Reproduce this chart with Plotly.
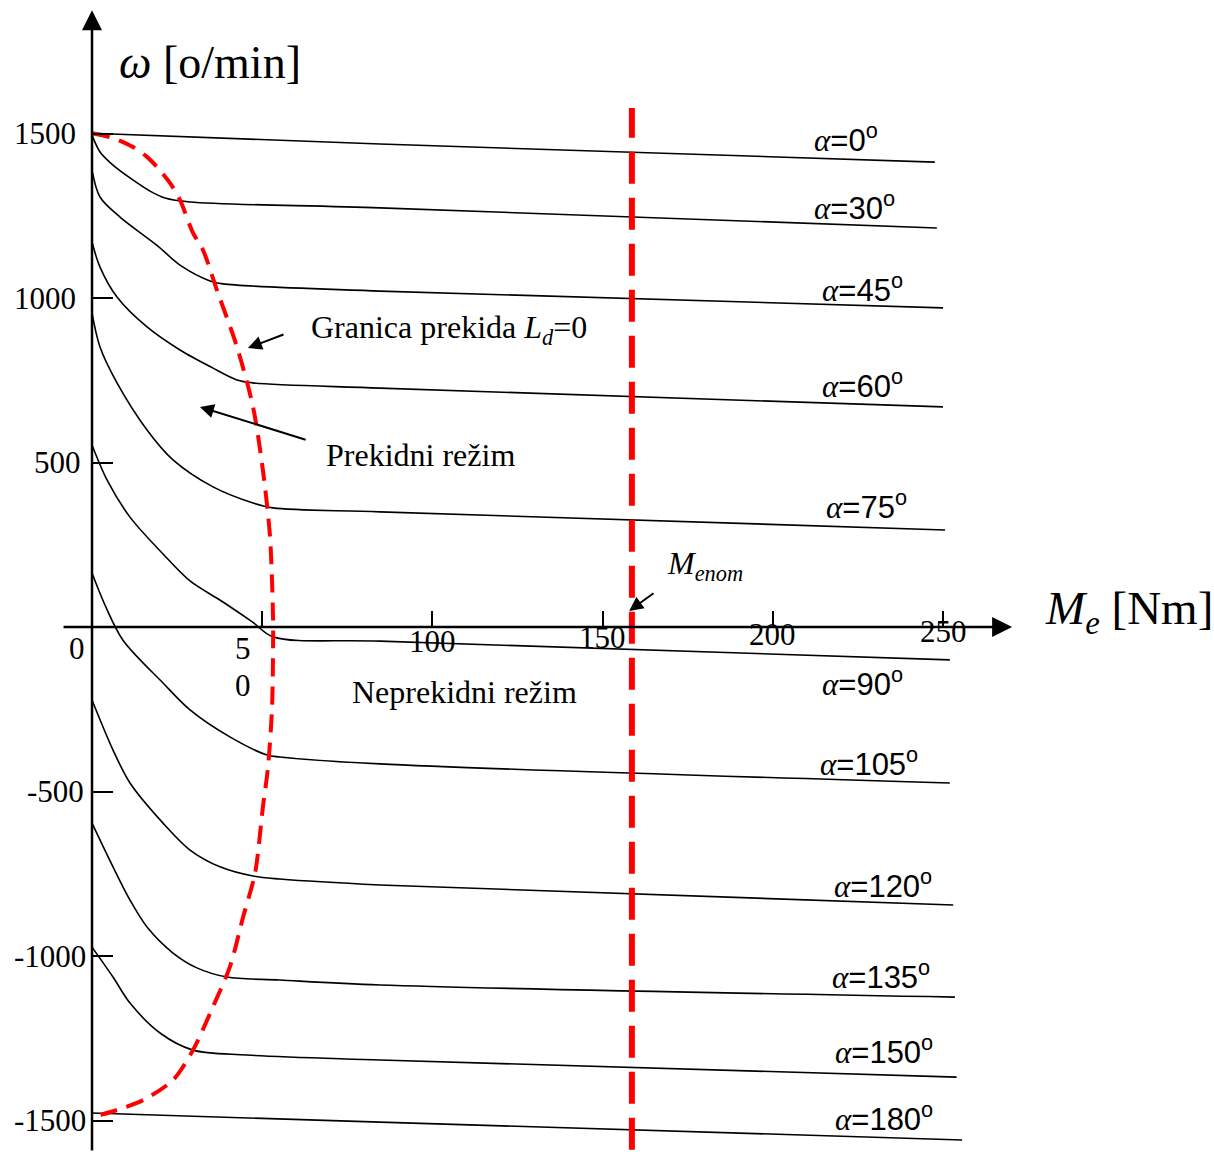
import plotly.graph_objects as go

# ---------------- data: M_e [Nm] and omega [o/min] ----------------
m_a0 = [0, 84.6, 247.6]
w_a0 = [1501, 1468, 1413]
m_a30 = [0, 2.35, 6.17, 11.16, 17.04, 21.45, 28.79, 84.6, 248.2]
w_a30 = [1495, 1444, 1404, 1365, 1325, 1304, 1292, 1274, 1213]
m_a45 = [0, 2.35, 8.23, 19.1, 25.85, 34.67, 38.48, 84.6, 250]
w_a45 = [1389, 1307, 1246, 1160, 1100, 1052, 1043, 1021, 970]
m_a60 = [0, 2.35, 7.34, 16.16, 25.85, 35.55, 42.6, 47.3, 84.6, 250]
w_a60 = [1170, 1094, 1003, 912, 842, 787, 751, 742, 726, 669]
m_a75 = [0, 2.35, 7.34, 16.16, 23.8, 35.55, 47.3, 53.2, 84.6, 250.6]
w_a75 = [954, 851, 742, 599, 508, 426, 377, 362, 350, 295]
m_a90 = [0, 4.4, 11.16, 20.86, 28.79, 38.48, 47.3, 53.2, 84.6, 252]
w_a90 = [553, 447, 334, 222, 140, 76, 14, -30, -43, -100]
m_a105 = [0, 3.8, 9.1, 20.86, 28.79, 40.5, 51.4, 55.2, 84.6, 252]
w_a105 = [164, 67, -40, -170, -252, -334, -389, -395, -416, -474]
m_a120 = [0, 6.17, 11.16, 20.86, 28.79, 37.6, 47.3, 55.2, 84.6, 253]
w_a120 = [-222, -374, -474, -596, -678, -729, -757, -766, -784, -845]
m_a135 = [0, 6.17, 11.16, 16.16, 23.8, 30.8, 39.7, 55.2, 84.6, 253.5]
w_a135 = [-596, -729, -830, -912, -991, -1036, -1064, -1073, -1088, -1125]
m_a150 = [0, 6.17, 11.16, 19.98, 29.67, 45.5, 84.6, 254]
w_a150 = [-973, -1064, -1143, -1234, -1286, -1301, -1316, -1368]
m_a180 = [0, 84.6, 255.6]
w_a180 = [-1477, -1505, -1559]

# boundary of discontinuous conduction (L_d = 0)
m_lim = [0, 6.17, 12.04, 16.16, 19.1, 22.9, 25.85, 29.67, 32.6, 36.7, 42.6, 47.3, 50.2,
         52.3, 53.2, 53.2, 52.9, 51.7, 50.2, 47.9, 44.4, 40.5, 35.5, 29.67, 23.8, 15.0, 7.34, 2.5]
w_lim = [1501, 1486, 1459, 1429, 1398, 1350, 1298, 1198, 1146, 1024, 851, 669, 477,
         274, 21, -40, -243, -426, -547, -748, -881, -1033, -1155, -1286, -1377, -1438, -1468, -1483]

# nominal torque
M_NOM = 158.6

alpha_labels = ["0", "30", "45", "60", "75", "90", "105", "120", "135", "150", "180"]
curves_m = [m_a0, m_a30, m_a45, m_a60, m_a75, m_a90, m_a105, m_a120, m_a135, m_a150, m_a180]
curves_w = [w_a0, w_a30, w_a45, w_a60, w_a75, w_a90, w_a105, w_a120, w_a135, w_a150, w_a180]

x_ticks = [50, 100, 150, 200, 250]
y_ticks = [-1500, -1000, -500, 500, 1000, 1500]
y_tick_text = ["-1500", "-1000", "-500", "500", "1000", "1500"]

# ---------------- figure ----------------
SERIF = "Liberation Serif"
SANS = "Liberation Sans"
W, H = 1214, 1152
X_RANGE = [-27.03, 329.61]
Y_RANGE = [-1595.7, 1905.8]

fig = go.Figure()

for m, w in zip(curves_m, curves_w):
    fig.add_trace(go.Scatter(x=m, y=w, mode="lines",
                             line=dict(color="black", width=1.6, shape="spline", smoothing=0.9),
                             hoverinfo="skip", showlegend=False))

fig.add_trace(go.Scatter(x=m_lim, y=w_lim, mode="lines",
                         line=dict(color="#ff0000", width=4, dash="18px,10px",
                                   shape="spline", smoothing=0.8),
                         hoverinfo="skip", showlegend=False))

fig.add_shape(type="line", xref="x", yref="paper", x0=M_NOM, x1=M_NOM,
              y0=0.002, y1=(H - 108) / H,
              line=dict(color="#ff0000", width=6, dash="32px,14px"))

ann = []
# axis arrows
ann.append(dict(x=270.3, y=0, ax=-8.8, ay=0, xref="x", yref="y", axref="x", ayref="y",
                text="", showarrow=True, arrowhead=2, arrowsize=1.6, arrowwidth=2.5,
                arrowcolor="black", standoff=0, startstandoff=0))
ann.append(dict(x=0, y=1875, ax=0, ay=-1596, xref="x", yref="y", axref="x", ayref="y",
                text="", showarrow=True, arrowhead=2, arrowsize=1.6, arrowwidth=2.5,
                arrowcolor="black", standoff=0, startstandoff=0))

# alpha labels
alpha_pos = [(211.5, 1486), (211.5, 1280), (213.9, 1030), (213.9, 739), (215.0, 371),
             (213.9, -167), (213.3, -410), (217.4, -781), (216.8, -1058), (217.7, -1286),
             (217.7, -1489)]
for lab, (px, py) in zip(alpha_labels, alpha_pos):
    ann.append(dict(x=px, y=py, xref="x", yref="y", xanchor="left", yanchor="middle",
                    showarrow=False,
                    text=f"<span style='font-family:{SERIF}'><i>α</i></span>={lab}<sup>o</sup>",
                    font=dict(family=SANS, size=31, color="black")))

# axis titles
ann.append(dict(x=7.34, y=1717, xref="x", yref="y", xanchor="left", yanchor="middle",
                showarrow=False, text="<i>ω</i> [o/min]",
                font=dict(family=SERIF, size=46, color="black")))
ann.append(dict(x=279.4, y=46, xref="x", yref="y", xanchor="left", yanchor="middle",
                showarrow=False, text="<i>M<sub>e</sub></i> [Nm]",
                font=dict(family=SERIF, size=47, color="black")))

TICKFONT = dict(family=SERIF, size=31, color="black")
# y tick labels (right edges follow the slightly slanted axis of the original)
y_label_right = [-1.2, -1.2, -1.8, -2.6, -4.1, -4.1]
for v, t, xr in zip(y_ticks, y_tick_text, y_label_right):
    ann.append(dict(x=xr, y=v, xref="x", yref="y", xanchor="right", yanchor="middle",
                    showarrow=False, text=t, font=TICKFONT))

# x tick labels
ann.append(dict(x=-4.4, y=-64, xref="x", yref="y", showarrow=False, text="0", font=TICKFONT))
ann.append(dict(x=44.4, y=-64, xref="x", yref="y", showarrow=False, text="5", font=TICKFONT))
ann.append(dict(x=44.4, y=-179, xref="x", yref="y", showarrow=False, text="0", font=TICKFONT))
for t, ty in zip(x_ticks[1:], [-43, -33, -24, -15]):
    ann.append(dict(x=t, y=ty, xref="x", yref="y", showarrow=False, text=str(t), font=TICKFONT))

TXT = dict(family=SERIF, size=32, color="black")
# region texts
ann.append(dict(x=63.7, y=903, xref="x", yref="y", xanchor="left", yanchor="middle",
                showarrow=False, text="Granica prekida <i>L<sub>d</sub></i>=0", font=TXT))
ann.append(dict(x=68.2, y=523, xref="x", yref="y", xanchor="left", yanchor="middle",
                showarrow=False, text="Prekidni režim", font=TXT))
ann.append(dict(x=75.8, y=-198, xref="x", yref="y", xanchor="left", yanchor="middle",
                showarrow=False, text="Neprekidni režim", font=TXT))
ann.append(dict(x=168.3, y=188, xref="x", yref="y", xanchor="left", yanchor="middle",
                showarrow=False, text="<i>M<sub>enom</sub></i>", font=TXT))

# pointer arrows
for (tx, ty, sx, sy) in [(45.8, 848, 56.7, 891), (31.7, 669, 63.2, 568), (157.8, 49, 165.4, 106)]:
    ann.append(dict(x=tx, y=ty, ax=sx, ay=sy, xref="x", yref="y", axref="x", ayref="y",
                    text="", showarrow=True, arrowhead=2, arrowsize=1.4, arrowwidth=2,
                    arrowcolor="black", standoff=0, startstandoff=0))

fig.update_layout(
    width=W, height=H, margin=dict(l=0, r=0, t=0, b=0),
    paper_bgcolor="white", plot_bgcolor="white",
    annotations=ann,
    xaxis=dict(range=X_RANGE, anchor="free", position=1595.7 / 3501.5,
               showgrid=False, zeroline=False, showline=False,
               tickvals=x_ticks, ticks="inside", ticklen=16, tickwidth=1.5,
               tickcolor="black", showticklabels=False, fixedrange=True),
    yaxis=dict(range=Y_RANGE, anchor="free", position=92 / W,
               showgrid=False, zeroline=False, showline=False,
               tickvals=y_ticks, ticks="inside", ticklen=20,
               tickwidth=1.5, tickcolor="black", showticklabels=False, fixedrange=True),
    showlegend=False,
)

fig.write_html("out.html", config={"displayModeBar": False},
               post_script="document.body.style.margin='0';")
